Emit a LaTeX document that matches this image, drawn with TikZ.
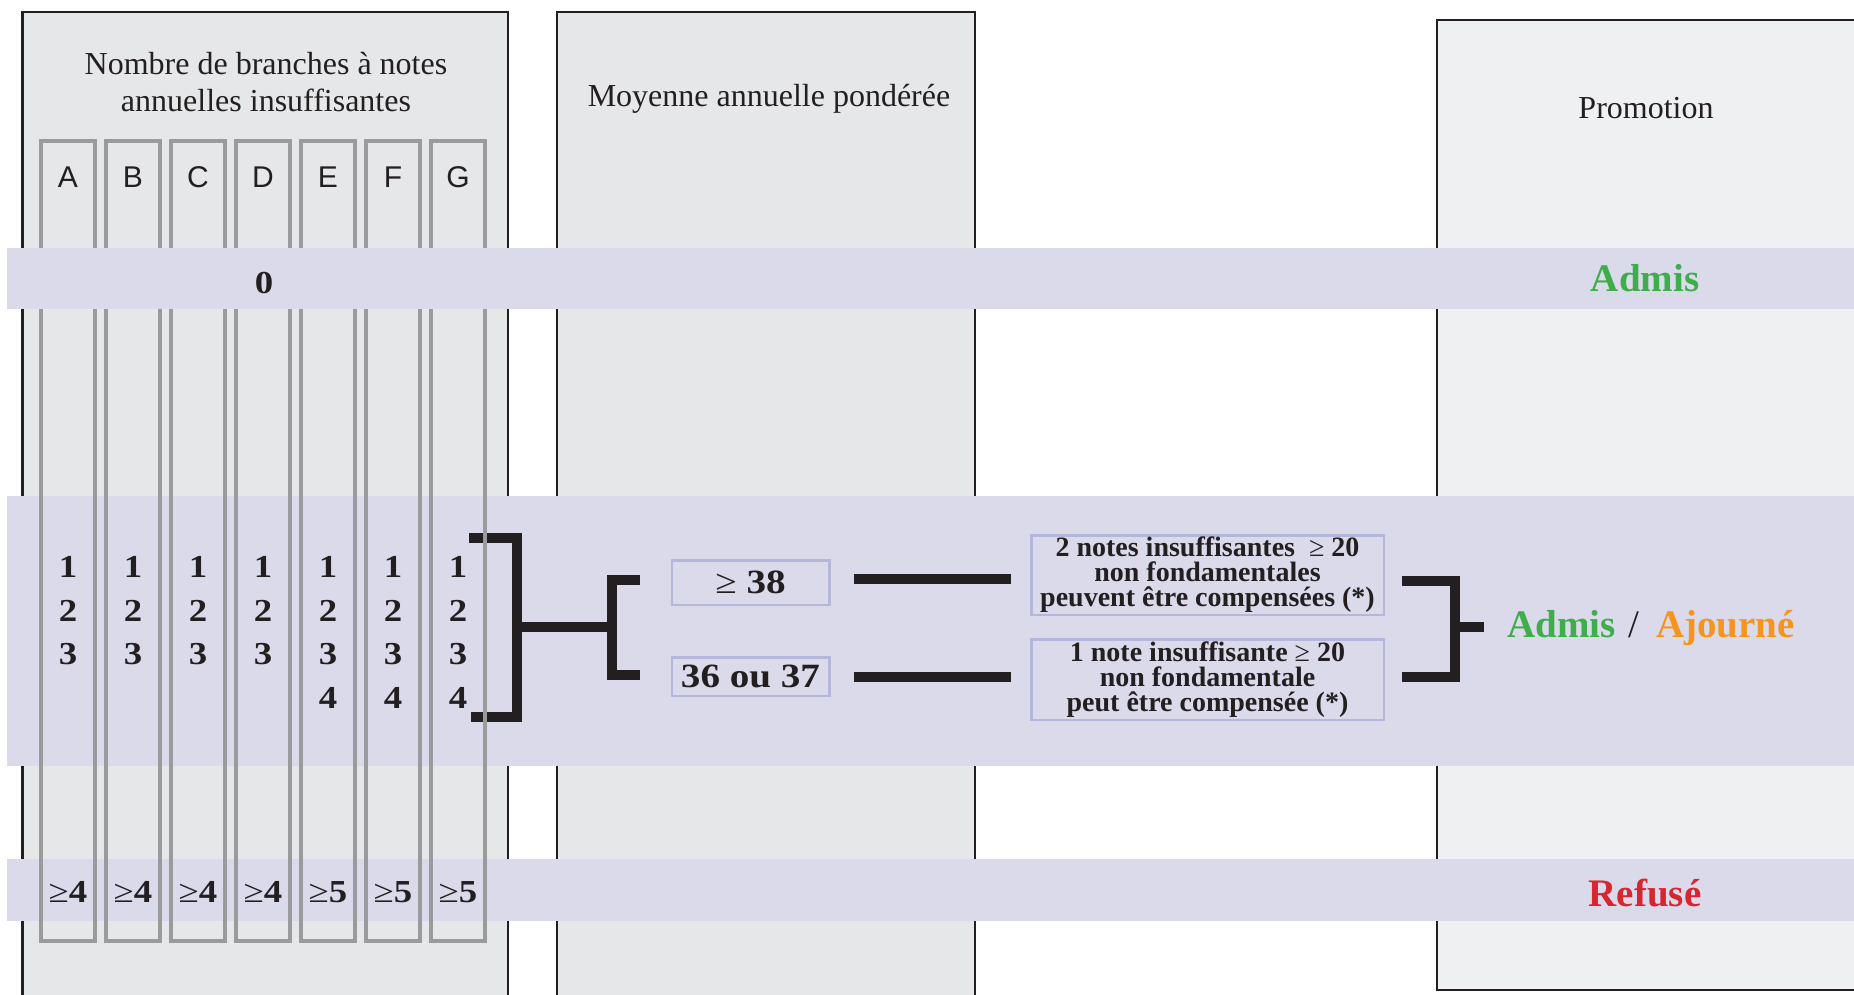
\documentclass[tikz,border=0pt]{standalone}
\usepackage{fontspec}
\setmainfont{Liberation Serif}
\newfontfamily\lettersf{Liberation Sans}
\newfontfamily\wideserif{Liberation Serif}[FakeStretch=1.15]
\definecolor{panel}{HTML}{E6E7E8}
\definecolor{panelR}{HTML}{EFF0F2}
\definecolor{band}{HTML}{DADAEA}
\definecolor{colgray}{HTML}{9A9B9D}
\definecolor{ink}{HTML}{231F20}
\definecolor{boxline}{HTML}{B4B6DA}
\definecolor{admisgreen}{HTML}{3DAE4A}
\definecolor{ajourange}{HTML}{F7941D}
\definecolor{refusred}{HTML}{D7262F}
\begin{document}
\begin{tikzpicture}[x=1pt,y=-1pt,
  panelbox/.style={draw=ink,line width=2.5pt},
  colbox/.style={draw=colgray,line width=4.3pt,minimum width=53.7pt,minimum height=800pt,inner sep=0pt},
  title/.style={font=\fontsize{32}{37}\selectfont,text=ink,inner sep=0pt},
  letter/.style={font=\lettersf\fontsize{30}{36}\selectfont,text=ink,inner sep=0pt},
  num/.style={font=\wideserif\bfseries\fontsize{32}{36}\selectfont,text=ink,inner sep=0pt},
  condbox/.style={draw=boxline,line width=2.5pt,inner sep=0pt,font=\wideserif\bfseries\fontsize{34}{36}\selectfont,text=ink},
  notebox/.style={draw=boxline,line width=2.5pt,minimum width=352.5pt,inner sep=0pt,align=center,font=\bfseries\fontsize{28}{25}\selectfont,text=ink},
  brk/.style={draw=ink,line width=10pt},
  verdict/.style={font=\bfseries\fontsize{39}{42}\selectfont,inner sep=0pt}
]
\useasboundingbox (0,0) rectangle (1854,994);
\begin{scope}
\clip (0,0) rectangle (1854,994);
% panels
\draw[panelbox,fill=panel] (22.5,12) rectangle (508,1020);
\draw[panelbox,fill=panel] (557,12) rectangle (975,1020);
\draw[panelbox,fill=panelR] (1437,20) rectangle (1880,990);
% middle and bottom bands
\fill[band] (7,496) rectangle (1860,766);
\fill[band] (7,859) rectangle (1860,921);
% brackets
\coordinate (b1a) at (469,538);
\coordinate (b1b) at (517,538);
\coordinate (b1c) at (517,717);
\coordinate (b1d) at (471,717);
\coordinate (b1m) at (517,627);
\coordinate (b2m) at (611.5,627);
\coordinate (b2a) at (640,580);
\coordinate (b2b) at (611.5,580);
\coordinate (b2c) at (611.5,675);
\coordinate (b2d) at (640,675);
\coordinate (l1a) at (854,579);
\coordinate (l1b) at (1011,579);
\coordinate (l2a) at (854,677);
\coordinate (l2b) at (1011,677);
\coordinate (b3a) at (1402,581);
\coordinate (b3b) at (1455,581);
\coordinate (b3c) at (1455,677);
\coordinate (b3d) at (1402,677);
\coordinate (b3m) at (1455,627);
\coordinate (b3e) at (1484,627);
\draw[brk] (b1a) -- (b1b) -- (b1c) -- (b1d);
\draw[brk] (b1m) -- (b2m);
\draw[brk] (b2a) -- (b2b) -- (b2c) -- (b2d);
\draw[brk] (l1a) -- (l1b);
\draw[brk] (l2a) -- (l2b);
\draw[brk] (b3a) -- (b3b) -- (b3c) -- (b3d);
\draw[brk] (b3m) -- (b3e);
% columns
\foreach \l/\cnt/\lim [count=\i from 0] in {A/3/4,B/3/4,C/3/4,D/3/4,E/4/5,F/4/5,G/4/5} {
  \pgfmathsetmacro\cx{68+65*\i}
  \node[colbox] (col\l) at (\cx,541) {};
  \node[letter,anchor=base] (lt\l) at (\cx,187) {\l};
  \foreach \n in {1,...,\cnt} {
    \node[num] (d\l\n) at (\cx,{567+43.5*(\n-1)}) {\n};
  }
  \node[num,anchor=base] (g\l) at (\cx,902) {{\mdseries ≥}\lim};
}
% top band
\fill[band] (7,248) rectangle (1860,309);
\end{scope}
% titles
\node[title,anchor=base] (t1a) at (266,74) {Nombre de branches à notes};
\node[title,anchor=base] (t1b) at (266,111) {annuelles insuffisantes};
\node[title,anchor=base] (t2) at (769,106) {Moyenne annuelle pondérée};
\node[title,anchor=base] (t3) at (1646,118) {Promotion};
% top band texts
\node[num,anchor=base] (zero) at (264,293) {0};
\node[verdict,anchor=base,text=admisgreen] (admis1) at (1645,291) {Admis};
% conditions
\node[condbox,minimum width=157.5pt,minimum height=44.5pt] (c38) at (750.5,582.5) {{\mdseries ≥} 38};
\node[condbox,minimum width=157.5pt,minimum height=38.5pt] (c36) at (750.5,676.5) {36 ou 37};
\node[notebox,minimum height=79.5pt] (n2) at (1207.5,575) {2 notes insuffisantes\enspace{\mdseries ≥} 20\\non fondamentales\\peuvent être compensées (*)};
\node[notebox,minimum height=80.5pt] (n1) at (1207.5,679.5) {1 note insuffisante {\mdseries ≥} 20\\non fondamentale\\peut être compensée (*)};
% verdicts
\node[verdict,anchor=base west,text=admisgreen] (admis2) at (1507,637) {Admis};
\node[verdict,anchor=base,text=ink,font=\fontsize{39}{42}\selectfont] (slash) at (1634,637) {/};
\node[verdict,anchor=base west,text=ajourange] (ajourne) at (1656,637) {Ajourné};
\node[verdict,anchor=base,text=refusred] (refuse) at (1645,906) {Refusé};
\end{tikzpicture}
\end{document}
